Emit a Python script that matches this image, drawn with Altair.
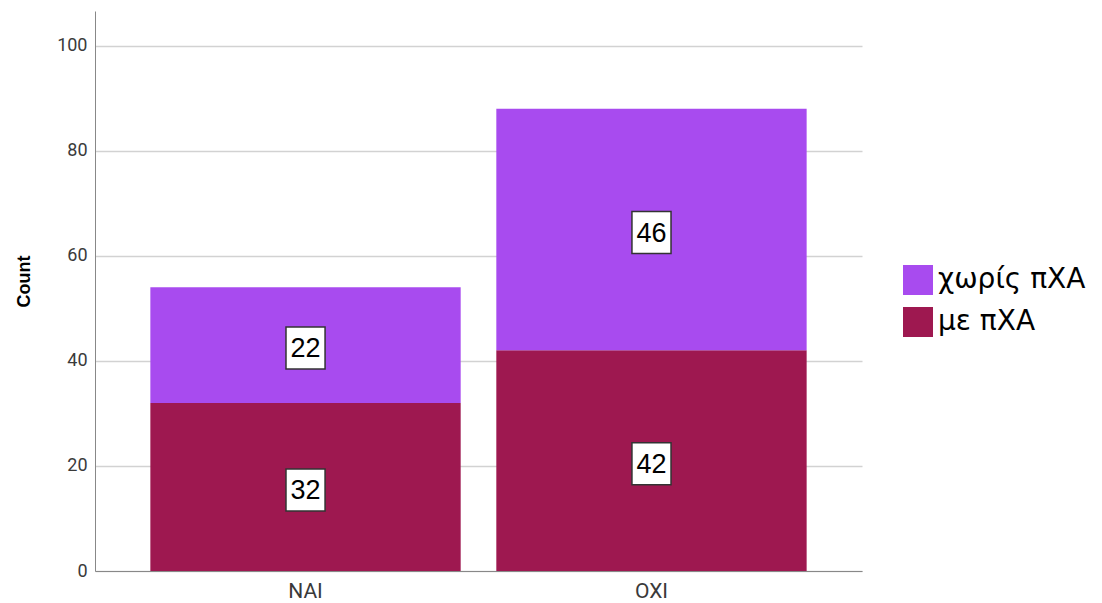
import altair as alt
import pandas as pd

categories = ["NAI", "NAI", "OXI", "OXI"]
groups = ["με πΧΑ", "χωρίς πΧΑ", "με πΧΑ", "χωρίς πΧΑ"]
counts = [32, 22, 42, 46]
stack_order = [1, 2, 1, 2]

legend_order = ["χωρίς πΧΑ", "με πΧΑ"]
colors = ["#A84BEF", "#9E1850"]
y_ticks = [0, 20, 40, 60, 80, 100]

df = pd.DataFrame({"cat": categories, "grp": groups, "count": counts, "ord": stack_order})

x_scale = alt.Scale(paddingInner=0.103, paddingOuter=0.16)
y_scale = alt.Scale(domain=[0, 106.6], nice=False)

base = alt.Chart(df)

bars = base.mark_bar().encode(
    x=alt.X("cat:N", scale=x_scale, sort=None,
            axis=alt.Axis(title=None, labelAngle=0, ticks=False, grid=False,
                          domainColor="#888888", domainWidth=1,
                          labelFont="Roboto", labelFontSize=21, labelColor="#3a3a3a",
                          labelPadding=9)),
    y=alt.Y("count:Q", stack="zero", scale=y_scale,
            axis=alt.Axis(title="Count", values=y_ticks, ticks=False, grid=True,
                          gridColor="#d2d2d2", gridWidth=1.5,
                          domainColor="#888888", domainWidth=1,
                          labelFont="Roboto", labelFontSize=18, labelColor="#3a3a3a",
                          labelPadding=8,
                          titleFont="Liberation Sans", titleFontWeight="bold",
                          titleFontSize=18, titleColor="#000000",
                          titleX=-71, titleY=270, titleAngle=-90,
                          titleBaseline="middle", titleAlign="center")),
    color=alt.Color("grp:N", scale=alt.Scale(domain=legend_order, range=colors),
                    legend=alt.Legend(title=None, orient="none", legendX=808, legendY=254,
                                      symbolType="square", symbolSize=900,
                                      symbolStrokeWidth=0, symbolOpacity=1,
                                      labelFont="DejaVu Sans", labelFontSize=28,
                                      labelColor="#000000", rowPadding=12,
                                      labelOffset=5, padding=0)),
    order=alt.Order("ord:Q"),
)

lab = base.transform_stack(
    stack="count", groupby=["cat"], sort=[alt.SortField("ord")], as_=["y0", "y1"]
).transform_calculate(mid="(datum.y0 + datum.y1) / 2")

boxes = lab.mark_point(
    shape="M-0.93,-1L0.93,-1L0.93,1L-0.93,1Z", size=42 * 42, filled=True,
    fill="white", stroke="#333333", strokeWidth=1.5, opacity=1, yOffset=3,
).encode(
    x=alt.X("cat:N", scale=x_scale, sort=None, title=None),
    y=alt.Y("mid:Q", scale=y_scale, title="Count"),
)

texts = lab.mark_text(
    font="Liberation Sans", fontSize=27, color="#000000", baseline="middle", yOffset=4,
).encode(
    x=alt.X("cat:N", scale=x_scale, sort=None, title=None),
    y=alt.Y("mid:Q", scale=y_scale, title="Count"),
    text="count:Q",
)

chart = alt.layer(bars, boxes, texts).properties(
    width=767, height=560,
    autosize="none",
    padding={"left": 87, "top": 3, "right": 232, "bottom": 30},
).configure_view(stroke=None)

chart.save("out.html", embed_options={"renderer": "svg", "actions": False})
